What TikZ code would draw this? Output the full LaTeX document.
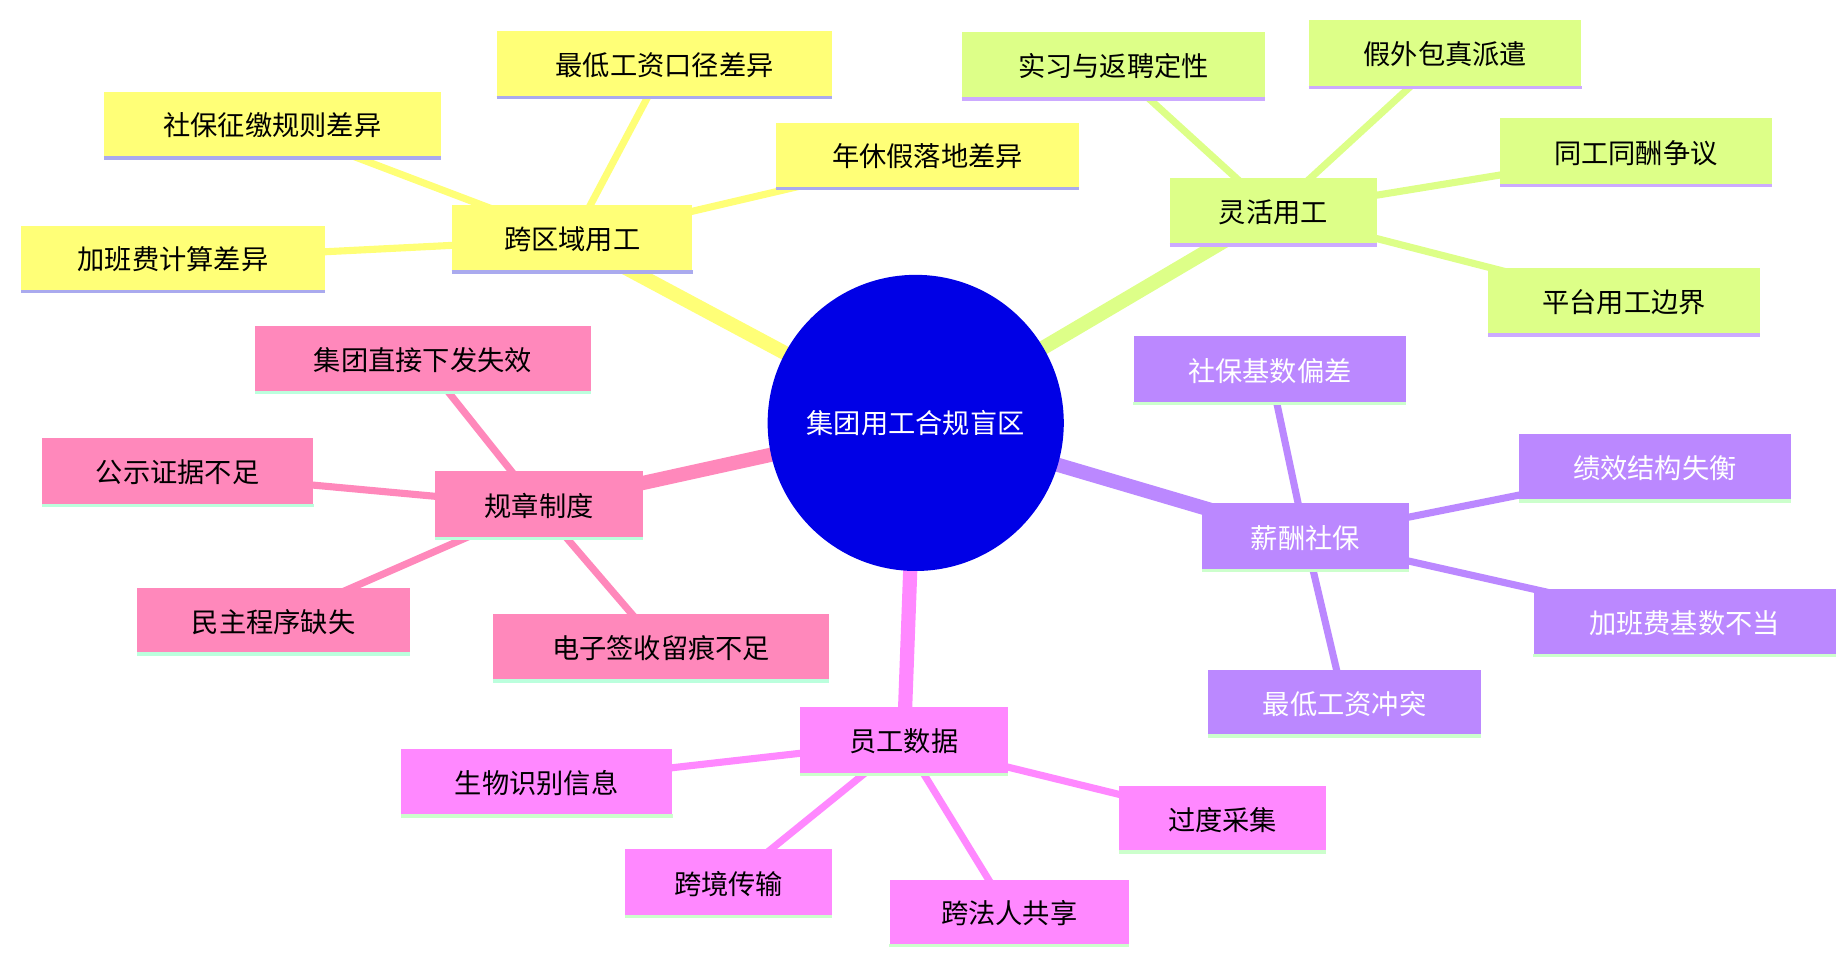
\documentclass[tikz,border=0pt]{standalone}
\usepackage{fontspec}
\setmainfont{Noto Sans CJK SC}
\usetikzlibrary{backgrounds}
\definecolor{cY}{HTML}{FFFF77}\definecolor{cYb}{HTML}{AAAAEE}
\definecolor{cG}{HTML}{DDFF88}\definecolor{cGb}{HTML}{CCAAFF}
\definecolor{cP}{HTML}{BB88FF}\definecolor{cPb}{HTML}{CCFFCC}
\definecolor{cM}{HTML}{FF88FF}\definecolor{cMb}{HTML}{CCFFCC}
\definecolor{cR}{HTML}{FF88BB}\definecolor{cRb}{HTML}{BBFFDD}
\definecolor{cB}{HTML}{0000E6}
\newcommand{\bx}[8]{%
 \node[fill=#6,minimum width=#4pt,minimum height=#5pt,inner sep=0pt,text=#8,font=\fontsize{23}{26}\selectfont] (#1) at (#2,#3) {#7};
 \draw[#6b,line width=3pt] ([yshift=1.5pt]#1.south west)--([yshift=1.5pt]#1.south east);}
\begin{document}
\begin{tikzpicture}[x=1pt,y=-1pt]
\useasboundingbox (0,0) rectangle (1560,812);
\node[circle,fill=cB,minimum size=250pt,inner sep=0pt,text=white,font=\fontsize{23}{26}\selectfont] (c) at (773,357) {集团用工合规盲区};
% yellow
\bx{y}{483}{202}{203}{58}{cY}{跨区域用工}{black}
\bx{y1}{561}{55}{283}{57}{cY}{最低工资口径差异}{black}
\bx{y2}{230}{106}{284}{57}{cY}{社保征缴规则差异}{black}
\bx{y3}{783}{132}{256}{57}{cY}{年休假落地差异}{black}
\bx{y4}{146}{219}{256}{57}{cY}{加班费计算差异}{black}
% green
\bx{g}{1075}{179}{175}{58}{cG}{灵活用工}{black}
\bx{g1}{940}{56}{256}{58}{cG}{实习与返聘定性}{black}
\bx{g2}{1220}{46}{230}{58}{cG}{假外包真派遣}{black}
\bx{g3}{1381}{129}{229}{58}{cG}{同工同酬争议}{black}
\bx{g4}{1371}{255}{229}{58}{cG}{平台用工边界}{black}
% purple
\bx{p}{1102}{454}{175}{58}{cP}{薪酬社保}{white}
\bx{p1}{1072}{313}{230}{58}{cP}{社保基数偏差}{white}
\bx{p2}{1397}{395}{229}{58}{cP}{绩效结构失衡}{white}
\bx{p3}{1422}{526}{255}{57}{cP}{加班费基数不当}{white}
\bx{p4}{1135}{594}{230}{57}{cP}{最低工资冲突}{white}
% magenta
\bx{m}{763}{626}{175}{58}{cM}{员工数据}{black}
\bx{m1}{453}{661}{229}{58}{cM}{生物识别信息}{black}
\bx{m2}{615}{746}{175}{58}{cM}{跨境传输}{black}
\bx{m3}{852}{771}{202}{57}{cM}{跨法人共享}{black}
\bx{m4}{1032}{692}{175}{57}{cM}{过度采集}{black}
% red
\bx{r}{455}{427}{175}{58}{cR}{规章制度}{black}
\bx{r1}{357}{304}{283}{57}{cR}{集团直接下发失效}{black}
\bx{r2}{150}{399}{229}{58}{cR}{公示证据不足}{black}
\bx{r3}{231}{525}{230}{57}{cR}{民主程序缺失}{black}
\bx{r4}{558}{547}{284}{58}{cR}{电子签收留痕不足}{black}
\begin{scope}[on background layer]
\draw[cY,line width=12pt] (c.center)--(y.center);
\draw[cG,line width=12pt] (c.center)--(g.center);
\draw[cP,line width=12pt] (c.center)--(p.center);
\draw[cM,line width=12pt] (c.center)--(m.center);
\draw[cR,line width=12pt] (c.center)--(r.center);
\foreach \k in {1,2,3,4}{
 \draw[cY,line width=6pt] (y.center)--(y\k.center);
 \draw[cG,line width=6pt] (g.center)--(g\k.center);
 \draw[cP,line width=6pt] (p.center)--(p\k.center);
 \draw[cM,line width=6pt] (m.center)--(m\k.center);
 \draw[cR,line width=6pt] (r.center)--(r\k.center);}
\end{scope}
\end{tikzpicture}
\end{document}
